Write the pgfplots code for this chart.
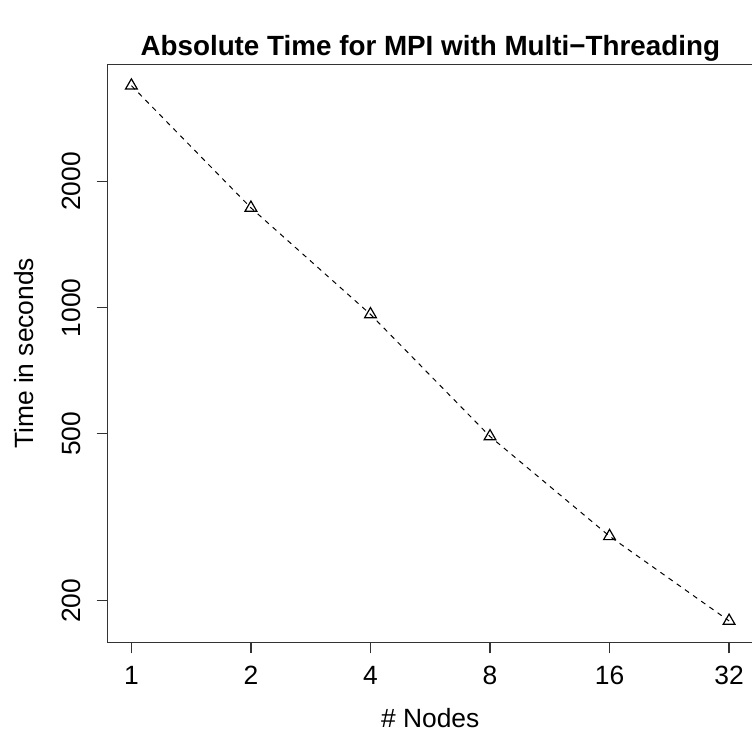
\documentclass[border=0pt]{standalone}
\usepackage{pgfplots}
\pgfplotsset{compat=1.18}
\usepackage{fontspec}
\setmainfont{Liberation Sans}
\begin{document}
\begin{tikzpicture}
\useasboundingbox (0,0) rectangle (376pt,369pt);
\begin{axis}[
  at={(53.75pt,47.75pt)}, anchor=south west,
  scale only axis, width=322.75pt, height=289.1pt,
  xmode=log, ymode=log, log basis x=2,
  xmin=0.8706, xmax=36.76, ymin=159, ymax=3808,
  axis x line*=bottom, axis y line*=left,
  axis line style={black!80, line width=0.6pt},
  xtick={1,2,4,8,16,32}, xticklabels={1,2,4,8,16,32},
  ytick={200,500,1000,2000}, yticklabels={200,500,1000,2000},
  minor tick num=0, log ticks with fixed point,
  tick align=outside, major tick length=5.5pt,
  tick style={black!80, line width=0.6pt},
  xtick pos=bottom, ytick pos=left,
  every tick label/.append style={font=\fontsize{13.2}{15}\selectfont},
  xticklabel style={anchor=center}, xticklabel shift=10.8pt,
  yticklabel style={anchor=center, rotate=90}, yticklabel shift=12.75pt,
  xlabel={\# Nodes}, ylabel={Time in seconds},
  label style={font=\fontsize{13.2}{15}\selectfont},
  xlabel style={at={(axis description cs:0.5,-0.1306)}, anchor=center},
  ylabel style={at={(axis description cs:-0.1294,0.5)}, anchor=center, rotate=0},
  title={Absolute Time for MPI with Multi\char"2212 Threading},
  title style={font=\bfseries\fontsize{13.9}{16}\selectfont, at={(axis description cs:0.5,1.0062)}, anchor=center},
  clip=false,
]
\addplot[black, line width=0.5pt, dash pattern=on 2.5pt off 2.5pt,
  mark=triangle, mark size=3.4pt, mark options={solid, fill=none, line width=0.6pt}]
  coordinates {(1,3386) (2,1731) (4,964) (8,493) (16,285) (32,179)};
\draw[black!80, line width=0.6pt] (rel axis cs:0,1) -- (rel axis cs:1,1);
\end{axis}
\end{tikzpicture}
\end{document}
